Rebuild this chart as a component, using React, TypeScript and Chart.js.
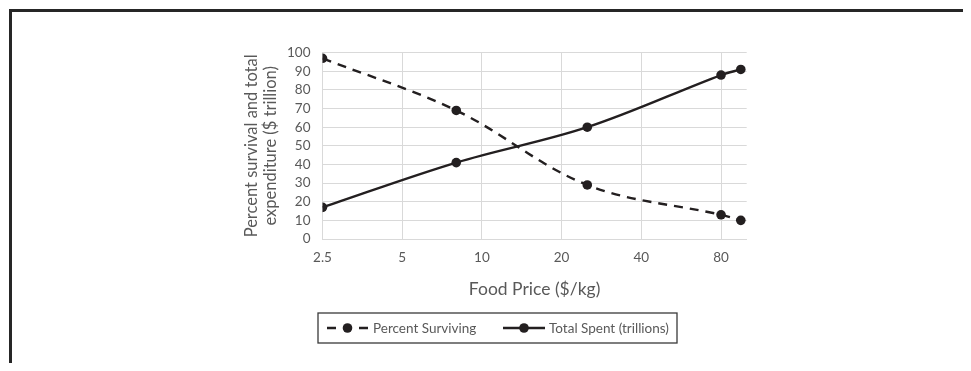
import React, { useEffect, useRef } from "react";
import { Chart, registerables } from "chart.js";

Chart.register(...registerables);

// ---- Data ----
const foodPrices = [2.5, 8, 25, 80, 95];
const percentSurviving = [97, 69, 29, 13, 10];
const totalSpent = [17, 41, 60, 88, 91];
const xTickValues = [2.5, 5, 10, 20, 40, 80];
const seriesNames = ["Percent Surviving", "Total Spent (trillions)"];
const yTitleLines = ["Percent survival and total", "expenditure ($ trillion)"];
const xTitle = "Food Price ($/kg)";

const INK = "#231f20";
const GRAY_TEXT = "#595959";
const GRID = "#d9d9d9";
const FONT = "Lato, 'Open Sans', sans-serif";

const W = 955;
const H = 355;

const legendPlugin = {
  id: "boxLegend",
  afterDraw(chart: any) {
    const ctx = chart.ctx;
    const ds = chart.data.datasets;
    ctx.save();
    ctx.strokeStyle = "#3a3a3a";
    ctx.lineWidth = 1.3;
    ctx.strokeRect(310, 305, 359, 30);
    const cy = 320;
    const items = [
      { x0: 319, x1: 360, tx: 365 },
      { x0: 495, x1: 537, tx: 541 },
    ];
    items.forEach((it, i) => {
      const d = ds[i];
      ctx.strokeStyle = d.borderColor;
      ctx.lineWidth = d.borderWidth;
      ctx.setLineDash(d.borderDash || []);
      ctx.beginPath();
      ctx.moveTo(it.x0, cy);
      ctx.lineTo(it.x1, cy);
      ctx.stroke();
      ctx.setLineDash([]);
      ctx.fillStyle = d.pointBackgroundColor;
      ctx.beginPath();
      ctx.arc((it.x0 + it.x1) / 2, cy, d.pointRadius, 0, Math.PI * 2);
      ctx.fill();
      ctx.fillStyle = GRAY_TEXT;
      ctx.font = `13.5px ${FONT}`;
      ctx.textBaseline = "middle";
      ctx.textAlign = "left";
      ctx.fillText(d.label, it.tx, cy + 0.5);
    });
    ctx.restore();
  },
};

export default function App() {
  const ref = useRef<HTMLCanvasElement>(null);
  useEffect(() => {
    const canvas = ref.current!;
    const mk = (vals: number[]) => foodPrices.map((x, i) => ({ x, y: vals[i] }));
    const chart = new Chart(canvas, {
      type: "line",
      data: {
        datasets: [
          {
            label: seriesNames[0],
            data: mk(percentSurviving),
            borderColor: INK,
            backgroundColor: INK,
            pointBackgroundColor: INK,
            pointBorderColor: INK,
            borderWidth: 2.4,
            borderDash: [9, 7],
            pointRadius: 4.8,
            pointBorderWidth: 0,
            tension: 0.35,
            fill: false,
          },
          {
            label: seriesNames[1],
            data: mk(totalSpent),
            borderColor: INK,
            backgroundColor: INK,
            pointBackgroundColor: INK,
            pointBorderColor: INK,
            borderWidth: 2.4,
            pointRadius: 4.8,
            pointBorderWidth: 0,
            tension: 0.35,
            fill: false,
          },
        ],
      } as any,
      options: {
        animation: false,
        responsive: false,
        devicePixelRatio: 1,
        layout: {
          autoPadding: false,
          padding: { left: 233.9, top: 44.7, right: 216.3, bottom: 64.4 },
        },
        plugins: {
          legend: { display: false },
          tooltip: { enabled: false },
        },
        scales: {
          x: {
            type: "logarithmic",
            min: 2.5,
            max: 100,
            afterBuildTicks: (scale: any) => {
              scale.ticks = xTickValues.map((v) => ({ value: v }));
            },
            afterFit: (scale: any) => {
              scale.height = 59.6;
            },
            grid: { color: GRID, lineWidth: 1, drawTicks: false },
            border: { color: GRID, width: 1 },
            ticks: {
              autoSkip: false,
              maxRotation: 0,
              padding: 11,
              color: GRAY_TEXT,
              font: { family: FONT, size: 13.5 },
              callback: (v: any) => String(v),
            },
            title: {
              display: true,
              text: xTitle,
              color: GRAY_TEXT,
              font: { family: FONT, size: 17.5, lineHeight: "19.2px" },
              padding: { top: 0, bottom: 0 },
            },
          },
          y: {
            min: 0,
            max: 100,
            afterFit: (scale: any) => {
              scale.width = 314.5 - 233.9;
            },
            grid: { color: GRID, lineWidth: 1, drawTicks: false },
            border: { color: GRID, width: 1 },
            ticks: {
              stepSize: 10,
              autoSkip: false,
              padding: 12,
              color: GRAY_TEXT,
              font: { family: FONT, size: 13.5 },
            },
            title: {
              display: true,
              text: yTitleLines,
              color: GRAY_TEXT,
              font: { family: FONT, size: 16.5, lineHeight: "19.4px" },
              padding: { top: 0, bottom: 0 },
            },
          },
        },
      } as any,
      plugins: [legendPlugin],
    });
    return () => chart.destroy();
  }, []);

  return (
    <div style={{ position: "relative", width: W, height: H, overflow: "hidden" }}>
      <div
        style={{
          position: "absolute",
          left: 1.3,
          top: 1.3,
          width: 2000,
          height: 2000,
          border: "3.4px solid #262626",
          boxSizing: "border-box",
        }}
      />
      <canvas
        ref={ref}
        width={W}
        height={H}
        style={{ position: "absolute", left: 0, top: 0, width: W, height: H }}
      />
    </div>
  );
}
